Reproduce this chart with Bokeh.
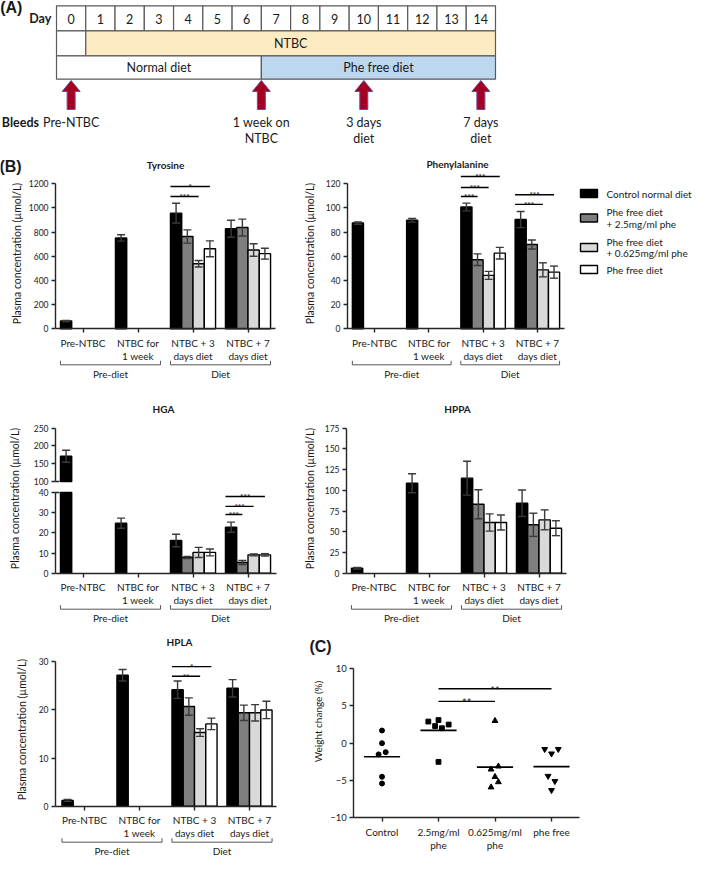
import numpy as np
from bokeh.plotting import figure
from bokeh.layouts import column, row
from bokeh.models import FixedTicker, Range1d
from bokeh.core.properties import value
from bokeh.embed import file_html
from bokeh.resources import INLINE

# ---------------- data ----------------
days = list(range(15))
ntbc_label = "NTBC"
ntbc_span = [1, 15]
diet_labels = ["Normal diet", "Phe free diet"]
diet_start = [0, 7]
diet_end = [7, 15]
bleed_labels = ["Pre-NTBC", "1 week on\nNTBC", "3 days\ndiet", "7 days\ndiet"]
bleed_day = [0.5, 7.0, 10.5, 14.5]

timepoints = ["Pre-NTBC", "NTBC for\n1 week", "NTBC + 3\ndays diet", "NTBC + 7\ndays diet"]
phase_labels = ["Pre-diet", "Diet"]
phase_first = [0, 2]
phase_last = [1, 3]
groups = ["Control normal diet", "Phe free diet\n+ 2.5mg/ml phe",
          "Phe free diet\n+ 0.625mg/ml phe", "Phe free diet"]
group_colors = ["#000000", "#7f7f7f", "#d9d9d9", "#ffffff"]
ylabel_text = "Plasma concentration (\u00b5mol/L)"

tyr_mean = [[65], [752], [957, 764, 538, 662], [828, 838, 652, 622]]
tyr_err = [[5], [26], [82, 55, 27, 66], [70, 70, 52, 45]]
tyr_sig = [(2, 3, 1178, "*"), (2, 2, 1095, "***")]
tyr_ticks = [0, 200, 400, 600, 800, 1000, 1200]

phe_mean = [[87.5], [89.8], [100.8, 57.2, 44.2, 62.6], [90.4, 69.8, 48.8, 46.9]]
phe_err = [[1.0], [1.5], [3.2, 4.8, 3.3, 4.8], [6.7, 3.7, 5.8, 5.0]]
phe_sig = [(2, 3, 126, "***"), (2, 2, 117, "***"), (2, 1, 109.5, "***"),
           (3, 3, 111, "***"), (3, 2, 103, "***")]
phe_ticks = [0, 20, 40, 60, 80, 100, 120]

hga_mean = [[171], [24.8], [16.2, 7.8, 10.3, 10.3], [22.8, 5.3, 9.1, 9.1]]
hga_err = [[17], [2.5], [3.1, 0.5, 2.5, 1.7], [2.5, 1.0, 0.5, 0.6]]
hga_sig = [(3, 3, 38.0, "***"), (3, 2, 33.1, "***"), (3, 1, 29.1, "***")]
hga_ticks_low = [0, 10, 20, 30, 40]
hga_ticks_high = [100, 150, 200, 250]
hga_break = [40, 100]

hppa_mean = [[6], [108.6], [114.7, 83.3, 61.2, 61.2], [84.5, 58.4, 64.4, 54.3]]
hppa_err = [[1], [11.5], [20.5, 17.5, 10.4, 9.0], [16, 14, 12, 9]]
hppa_ticks = [0, 25, 50, 75, 100, 125, 150, 175]

hpla_mean = [[1.2], [27.2], [24.2, 20.7, 15.3, 17.1], [24.5, 19.4, 19.4, 20.0]]
hpla_err = [[0.2], [1.2], [1.8, 1.8, 0.8, 1.2], [1.8, 1.6, 1.7, 1.8]]
hpla_sig = [(2, 3, 29.0, "*"), (2, 2, 27.0, "**")]
hpla_ticks = [0, 10, 20, 30]

weight_groups = ["Control", "2.5mg/ml\nphe", "0.625mg/ml\nphe", "phe free"]
weight_markers = ["circle", "square", "triangle", "inverted_triangle"]
weight_values = [[1.7, 0.0, -1.5, -1.2, -4.5, -5.4],
                 [2.9, 3.1, 2.3, 2.0, 2.5, -2.5],
                 [3.0, -3.5, -3.1, -4.5, -5.2, -5.9],
                 [-0.8, -1.4, -0.8, -4.4, -5.1, -6.3]]
weight_jitter = [[0, 0, -0.06, 0.065, 0, 0],
                 [-0.18, 0, -0.06, 0.06, 0.18, 0],
                 [0, -0.07, 0.06, 0, 0.06, -0.07],
                 [-0.12, 0, 0.12, -0.06, 0.06, 0]]
weight_sig = [(1, 3, 7.3, "**"), (1, 2, 5.6, "**")]
weight_ticks = [-10, -5, 0, 5, 10]

# ---------------- style ----------------
FONT = "Lato"
PANEL_FONT = "Liberation Sans"
TXT = "#1a1a1a"
AXC = "#262626"
ERRC = "#3a3a3a"
BRKC = "#555555"
TBLC = "#5a5a5a"
YEL = "#fdebc4"
BLUE = "#bdd7ee"
ARROW_FILL = "#a50021"
ARROW_LINE = "#6b4c9a"
BW = 0.205
CAP = 4.0


class Frame:
    def __init__(self, XL, XR, YT, YB, c0=0.0, dx=1.0, Yz=0.0, py=1.0):
        self.XL, self.XR, self.YT, self.YB = XL, XR, YT, YB
        self.c0, self.dx, self.Yz, self.py = c0, dx, Yz, py

    def fx(self, X):
        return (X - self.c0) / self.dx

    def fy(self, Y):
        return (self.Yz - Y) / self.py


def make_fig(fr):
    p = figure(width=int(round(fr.XR - fr.XL)), height=int(round(fr.YB - fr.YT)),
               x_range=Range1d(fr.fx(fr.XL), fr.fx(fr.XR)),
               y_range=Range1d(fr.fy(fr.YB), fr.fy(fr.YT)),
               output_backend="svg", toolbar_location=None, min_border=0)
    p.outline_line_color = None
    p.xgrid.visible = False
    p.ygrid.visible = False
    p.background_fill_color = "white"
    p.border_fill_color = "white"
    return p


def txt(p, x, y, s, size=10.0, bold=False, align="center", baseline="middle",
        angle=0.0, font=FONT, color=TXT, y_offset=0.0):
    p.text(x=[x], y=[y], text=[s], angle=angle, y_offset=y_offset,
           text_font=value(font), text_font_size=value(f"{size}px"),
           text_font_style=value("bold" if bold else "normal"),
           text_align=value(align), text_baseline=value(baseline),
           text_color=value(color))


def style_axis(ax, size):
    ax.axis_line_color = AXC
    ax.axis_line_width = 1.4
    ax.major_tick_line_color = AXC
    ax.major_tick_line_width = 1.4
    ax.major_tick_out = 4
    ax.major_tick_in = 0
    ax.minor_tick_line_color = None
    ax.major_label_text_font = FONT
    ax.major_label_text_font_size = f"{size}px"
    ax.major_label_text_color = TXT
    ax.major_label_standoff = 3


def y_axis(p, fr, axis_X, lo, hi, ticks, size=8.5):
    ya = p.yaxis[0]
    ya.fixed_location = fr.fx(axis_X)
    ya.bounds = (lo, hi)
    ya.ticker = FixedTicker(ticks=ticks)
    style_axis(ya, size)


def x_axis(p, fr, X0, X1, at, labels, size=10):
    xa = p.xaxis[0]
    xa.fixed_location = at
    xa.bounds = (fr.fx(X0), fr.fx(X1))
    xa.ticker = FixedTicker(ticks=list(range(len(labels))))
    xa.major_label_overrides = {i: s for i, s in enumerate(labels)}
    style_axis(xa, size)
    xa.major_label_standoff = 4
    xa.major_label_text_line_height = 1.1


def draw_bars(p, fr, means, errs, bottom=0.0, clip=None):
    bx, bt, bc = [], [], []
    ex, elo, ehi = [], [], []
    for i, (ms, es) in enumerate(zip(means, errs)):
        for j, (m, e) in enumerate(zip(ms, es)):
            x = i + (j - 1.5) * BW
            top = m if clip is None else min(m, clip)
            if top <= bottom:
                continue
            bx.append(x)
            bt.append(top)
            bc.append(group_colors[j])
            if clip is None or m + e <= clip:
                ex.append(x)
                elo.append(m - e)
                ehi.append(m + e)
    p.vbar(x=bx, top=bt, bottom=bottom, width=BW, fill_color=bc,
           line_color="black", line_width=1.4)
    cap = CAP / fr.dx
    p.segment(x0=ex, y0=elo, x1=ex, y1=ehi, line_color=ERRC, line_width=1.4)
    p.segment(x0=[x - cap for x in ex], y0=ehi, x1=[x + cap for x in ex], y1=ehi,
              line_color=ERRC, line_width=1.4)
    p.segment(x0=[x - cap for x in ex], y0=elo, x1=[x + cap for x in ex], y1=elo,
              line_color=ERRC, line_width=1.4)


def draw_sig(p, sigs, size=8):
    for i, j, y, lab in sigs:
        x0 = i - 2 * BW
        x1 = i + (j - 1.5) * BW
        p.segment(x0=[x0], y0=[y], x1=[x1], y1=[y], line_color="black", line_width=1.4)
        txt(p, (x0 + x1) / 2, y, lab, size, baseline="alphabetic", y_offset=0.5)


def draw_phases(p, fr):
    yl = fr.fy(fr.Yz + 36)
    yt = fr.fy(fr.Yz + 32)
    ytx = fr.fy(fr.Yz + 45)
    for lab, a, b in zip(phase_labels, phase_first, phase_last):
        xa = a - 2 * BW
        xb = b + 2 * BW
        p.segment(x0=[xa], y0=[yl], x1=[xb], y1=[yl], line_color=BRKC, line_width=1)
        p.segment(x0=[xa, xb], y0=[yl, yl], x1=[xa, xb], y1=[yt, yt],
                  line_color=BRKC, line_width=1)
        txt(p, (a + b) / 2, ytx, lab, 10)


# ---------------- panel A ----------------
frA = Frame(2, 695, 4, 160, c0=58, dx=439 / 15, Yz=0, py=1)
pA = make_fig(frA)
pA.axis.visible = False
fy = frA.fy
pA.quad(left=days, right=[d + 1 for d in days], top=fy(9.3), bottom=fy(34.3),
        fill_color="white", line_color=TBLC, line_width=1.2)
pA.text(x=[d + 0.5 for d in days], y=[fy(22)] * len(days), text=[str(d) for d in days],
        text_font=value(FONT), text_font_size=value("12.5px"), text_align=value("center"),
        text_baseline=value("middle"), text_color=value(TXT))
pA.quad(left=[0], right=[ntbc_span[0]], top=fy(34.3), bottom=fy(59.3),
        fill_color="white", line_color=TBLC, line_width=1.2)
pA.quad(left=[ntbc_span[0]], right=[ntbc_span[1]], top=fy(34.3), bottom=fy(59.3),
        fill_color=YEL, line_color=TBLC, line_width=1.2)
txt(pA, sum(ntbc_span) / 2, fy(47), ntbc_label, 12.5)
pA.quad(left=diet_start, right=diet_end, top=fy(59.3), bottom=fy(82.7),
        fill_color=["white", BLUE], line_color=TBLC, line_width=1.2)
for lab, a, b in zip(diet_labels, diet_start, diet_end):
    txt(pA, (a + b) / 2, fy(71), lab, 12.5)
hw = 9 / frA.dx
sw = 4 / frA.dx
axs = [[b, b + hw, b + sw, b + sw, b - sw, b - sw, b - hw] for b in bleed_day]
ays = [[fy(84), fy(95), fy(95), fy(113), fy(113), fy(95), fy(95)] for b in bleed_day]
pA.patches(xs=axs, ys=ays, fill_color=ARROW_FILL, line_color=ARROW_LINE, line_width=1)
for lab, b in zip(bleed_labels, bleed_day):
    for k, ln in enumerate(lab.split("\n")):
        txt(pA, b, fy(126 + 16 * k), ln, 12.5)
txt(pA, frA.fx(3.3), fy(126), "Bleeds", 12.5, bold=True, align="left")
txt(pA, frA.fx(41.7), fy(21.5), "Day", 12.5, bold=True)
txt(pA, frA.fx(12.8), fy(11), "(A)", 16, bold=True, font=PANEL_FONT)

# ---------------- Tyrosine ----------------
fr = Frame(2, 294, 166, 404, c0=84.5, dx=55.0, Yz=338.3, py=145 / 1200)
p_tyr = make_fig(fr)
x_axis(p_tyr, fr, 57, 277, 0, timepoints)
y_axis(p_tyr, fr, 57, 0, 1200, tyr_ticks)
draw_bars(p_tyr, fr, tyr_mean, tyr_err)
draw_sig(p_tyr, tyr_sig)
draw_phases(p_tyr, fr)
txt(p_tyr, fr.fx(167), fr.fy(174), "Tyrosine", 10, bold=True)
txt(p_tyr, fr.fx(18.3), fr.fy(263), ylabel_text, 10.5, angle=np.pi / 2)
txt(p_tyr, fr.fx(12), fr.fy(176), "(B)", 16, bold=True, font=PANEL_FONT)

# ---------------- Phenylalanine ----------------
fr = Frame(308, 709, 166, 404, c0=390.1, dx=54.25, Yz=338.3, py=145 / 120)
p_phe = make_fig(fr)
x_axis(p_phe, fr, 363, 580, 0, timepoints)
y_axis(p_phe, fr, 363, 0, 120, phe_ticks)
draw_bars(p_phe, fr, phe_mean, phe_err)
draw_sig(p_phe, phe_sig)
draw_phases(p_phe, fr)
txt(p_phe, fr.fx(473), fr.fy(173), "Phenylalanine", 10, bold=True)
txt(p_phe, fr.fx(325), fr.fy(263), ylabel_text, 10.5, angle=np.pi / 2)
leg_Y = [203, 227.5, 257, 279]
for lab, col, Yc in zip(groups, group_colors, leg_Y):
    p_phe.rect(x=[fr.fx(604.5)], y=[fr.fy(Yc)], width=17, height=8,
               width_units="screen", height_units="screen",
               fill_color=col, line_color="black", line_width=1.4)
    lines = lab.split("\n")
    for m, ln in enumerate(lines):
        dy = (m - (len(lines) - 1) / 2) * 11.5
        txt(p_phe, fr.fx(622), fr.fy(Yc + dy), ln, 10, align="left")

# ---------------- HGA (broken axis) ----------------
fr_lab = Frame(2, 27, 408, 643)
p_hlab = make_fig(fr_lab)
p_hlab.axis.visible = False
txt(p_hlab, fr_lab.fx(16.7), fr_lab.fy(512), ylabel_text, 10.5, angle=np.pi / 2)

pyu = 53.3 / 150
fr = Frame(27, 294, 408, 500, c0=84.5, dx=55.0, Yz=495 + 100 * pyu, py=pyu)
p_hup = make_fig(fr)
p_hup.xaxis.visible = False
y_axis(p_hup, fr, 57, hga_break[1], 250, hga_ticks_high)
draw_bars(p_hup, fr, hga_mean, hga_err, bottom=hga_break[1])
p_hup.segment(x0=[fr.fx(57)], y0=[hga_break[1]], x1=[fr.fx(61)], y1=[hga_break[1]],
              line_color=AXC, line_width=1.4)
txt(p_hup, fr.fx(165), fr.fy(422), "HGA", 10, bold=True)

fr = Frame(27, 294, 500, 643, c0=84.5, dx=55.0, Yz=586.7, py=80.7 / 40)
p_hlo = make_fig(fr)
x_axis(p_hlo, fr, 57, 278, 0, timepoints)
y_axis(p_hlo, fr, 57, 0, hga_break[0], hga_ticks_low)
draw_bars(p_hlo, fr, hga_mean, hga_err, clip=hga_break[0])
draw_sig(p_hlo, hga_sig)
draw_phases(p_hlo, fr)
p_hlo.segment(x0=[fr.fx(57)], y0=[hga_break[0]], x1=[fr.fx(61)], y1=[hga_break[0]],
              line_color=AXC, line_width=1.4)

# ---------------- HPPA ----------------
fr = Frame(308, 709, 408, 643, c0=389.5, dx=55.0, Yz=586.7, py=145 / 175)
p_hppa = make_fig(fr)
x_axis(p_hppa, fr, 362, 582, 0, timepoints)
y_axis(p_hppa, fr, 362, 0, 175, hppa_ticks)
draw_bars(p_hppa, fr, hppa_mean, hppa_err)
draw_phases(p_hppa, fr)
txt(p_hppa, fr.fx(473), fr.fy(422), "HPPA", 10, bold=True)
txt(p_hppa, fr.fx(325), fr.fy(512), ylabel_text, 10.5, angle=np.pi / 2)

# ---------------- HPLA ----------------
fr = Frame(2, 294, 645, 873, c0=86.0, dx=55.0, Yz=821.7, py=144.4 / 30)
p_hpla = make_fig(fr)
x_axis(p_hpla, fr, 57, 278, 0, timepoints)
y_axis(p_hpla, fr, 57, 0, 30, hpla_ticks)
draw_bars(p_hpla, fr, hpla_mean, hpla_err)
draw_sig(p_hpla, hpla_sig)
draw_phases(p_hpla, fr)
txt(p_hpla, fr.fx(181), fr.fy(657), "HPLA", 10, bold=True)
txt(p_hpla, fr.fx(23.3), fr.fy(745), ylabel_text, 10.5, angle=np.pi / 2)

# ---------------- (C) weight change ----------------
fr = Frame(308, 709, 645, 873, c0=397.5, dx=56.5, Yz=758.7, py=149.3 / 20)
p_c = make_fig(fr)
x_axis(p_c, fr, 369.3, 595, -10, weight_groups)
y_axis(p_c, fr, 369.3, -10, 10, weight_ticks, 9.5)
msize = {"circle": 5.0, "square": 4.8, "triangle": 5.8, "inverted_triangle": 5.8}
for i, (vals, jit, mk) in enumerate(zip(weight_values, weight_jitter, weight_markers)):
    p_c.scatter(x=[i + j for j in jit], y=vals, marker=mk, size=msize[mk],
                fill_color="black", line_color="black")
    mval = float(np.mean(vals))
    p_c.segment(x0=[i - 0.32], y0=[mval], x1=[i + 0.32], y1=[mval],
                line_color="black", line_width=1.6)
for a, b, y, lab in weight_sig:
    p_c.segment(x0=[a], y0=[y], x1=[b], y1=[y], line_color="black", line_width=1.4)
    txt(p_c, (a + b) / 2, y, lab, 11, baseline="alphabetic", y_offset=1.5)
txt(p_c, fr.fx(333), fr.fy(737), "Weight change (%)", 10, angle=np.pi / 2)
txt(p_c, fr.fx(336), fr.fy(662), "(C)", 16, bold=True, font=PANEL_FONT)

layout = column(
    pA,
    row(p_tyr, p_phe),
    row(row(p_hlab, column(p_hup, p_hlo)), p_hppa),
    row(p_hpla, p_c),
)

open("out.html", "w").write(file_html(layout, INLINE))
